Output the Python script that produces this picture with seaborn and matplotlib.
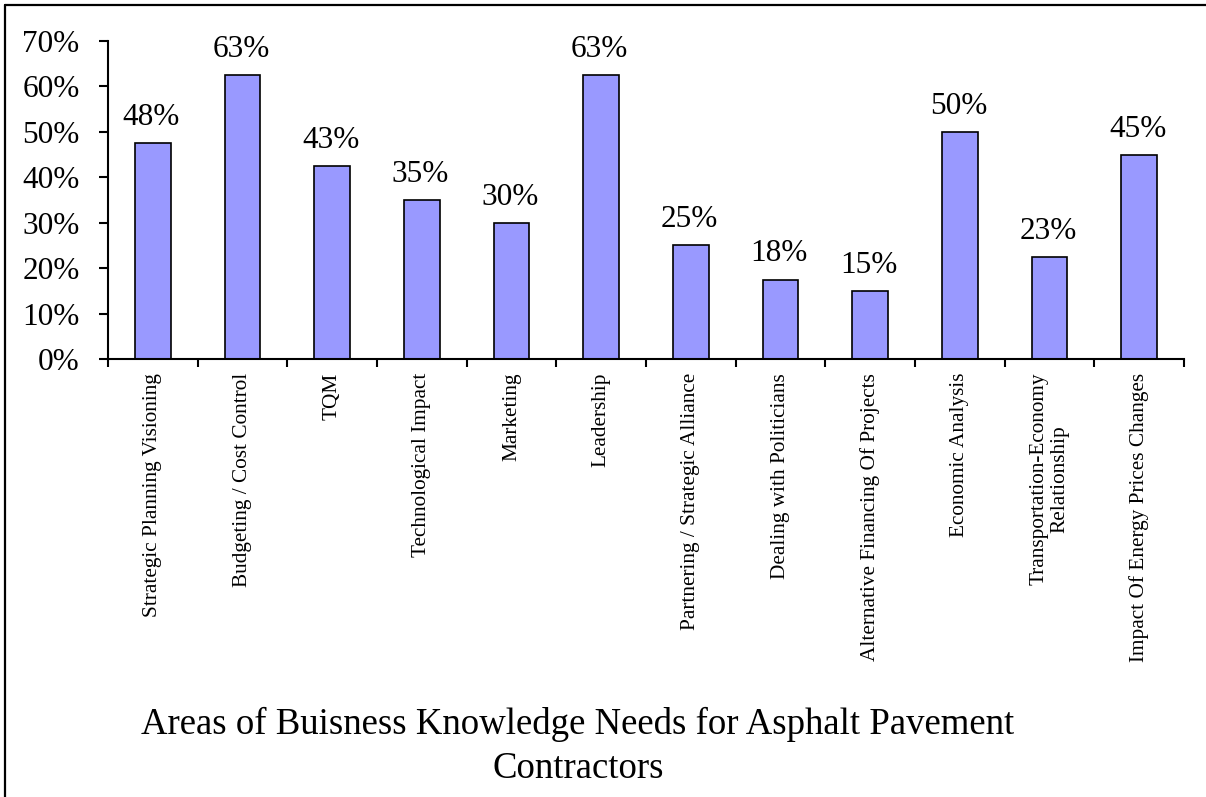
import matplotlib
matplotlib.use("Agg")
import matplotlib.pyplot as plt
from matplotlib.lines import Line2D
from matplotlib.ticker import FixedLocator, PercentFormatter
import seaborn as sns
import pandas as pd

categories = [
    "Strategic Planning Visioning",
    "Budgeting / Cost Control",
    "TQM",
    "Technological Impact",
    "Marketing",
    "Leadership",
    "Partnering / Strategic Alliance",
    "Dealing with Politicians",
    "Alternative Financing Of Projects",
    "Economic Analysis",
    "Transportation-Economy\nRelationship",
    "Impact Of Energy Prices Changes",
]
values = [0.475, 0.625, 0.425, 0.35, 0.30, 0.625, 0.25, 0.175, 0.15, 0.50, 0.225, 0.45]
title = "Areas of Buisness Knowledge Needs for Asphalt Pavement\nContractors"

sns.set_style("ticks")
plt.rcParams["font.family"] = ["Liberation Serif", "DejaVu Serif"]
plt.rcParams["text.color"] = "black"
plt.rcParams["xtick.color"] = "black"
plt.rcParams["ytick.color"] = "black"

df = pd.DataFrame({"area": categories, "share": values})

fig = plt.figure(figsize=(12.06, 7.97), dpi=100)
ax = fig.add_axes([108 / 1206, 1 - 359 / 797, (1184 - 108) / 1206, (359 - 41) / 797])

sns.barplot(data=df, x="area", y="share", ax=ax, color="#9999FF",
            saturation=1, width=0.4, edgecolor="black", linewidth=1.2)

for i, v in enumerate(values):
    ax.annotate(f"{int(v * 100 + 0.5 + 1e-9)}%", (i, v), xytext=(-1, 13),
                textcoords="offset points", ha="center", va="baseline",
                fontsize=22.5, color="black")

ax.set_xlim(-0.5, len(categories) - 0.5)
ax.set_ylim(0, 0.7)
ax.set_yticks([i / 10 for i in range(8)])
ax.yaxis.set_major_formatter(PercentFormatter(1.0, decimals=0))
ax.tick_params(axis="y", labelsize=22.5, length=6.5, width=1.5, direction="out",
               pad=14, colors="black", labelcolor="black")
ax.set_xticks(range(len(categories)))
ax.set_xticklabels(categories, rotation=90, fontsize=15.3, va="top", ha="center",
                   multialignment="center", color="black")
ax.tick_params(axis="x", which="major", length=0, pad=10)
ax.xaxis.set_minor_locator(FixedLocator([k - 0.5 for k in range(len(categories) + 1)]))
ax.tick_params(axis="x", which="minor", length=6, width=1.5, direction="out",
               colors="black")
ax.set_xlabel("")
ax.set_ylabel("")
for s in ["top", "right"]:
    ax.spines[s].set_visible(False)
for s in ["left", "bottom"]:
    ax.spines[s].set_linewidth(1.5)
    ax.spines[s].set_color("black")

fig.text(578 / 1206, 1 - 778 / 797, title, ha="center", va="baseline",
         fontsize=26.5, linespacing=1.36, multialignment="center", color="black")

# page frame (top and left edges)
fig.add_artist(Line2D([5 / 1206, 1.0], [1 - 5 / 797, 1 - 5 / 797],
                      transform=fig.transFigure, color="black", linewidth=1.6))
fig.add_artist(Line2D([5 / 1206, 5 / 1206], [0.0, 1 - 5 / 797],
                      transform=fig.transFigure, color="black", linewidth=1.6))

fig.savefig("out.png", dpi=100)
